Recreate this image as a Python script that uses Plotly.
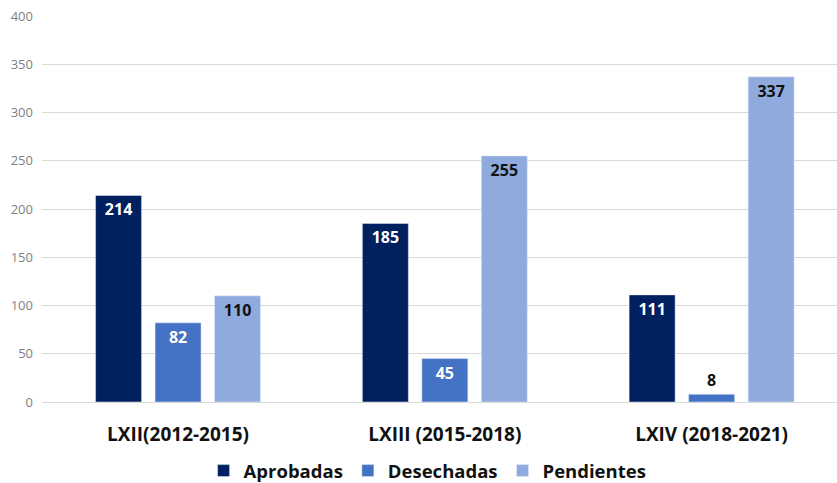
import plotly.graph_objects as go

categories = ["LXII(2012-2015)", "LXIII (2015-2018)", "LXIV (2018-2021)"]
aprobadas = [214, 185, 111]
desechadas = [82, 45, 8]
pendientes = [110, 255, 337]
y_ticks = [0, 50, 100, 150, 200, 250, 300, 350, 400]

FONT = "Open Sans"
fig = go.Figure()
fig.add_trace(go.Bar(name="Aprobadas", x=categories, y=aprobadas, marker_color="#002060",
                     text=aprobadas, textposition="inside", insidetextanchor="end",
                     textfont=dict(color="white", size=16, family=FONT, weight="bold")))
fig.add_trace(go.Bar(name="Desechadas", x=categories, y=desechadas, marker_color="#4472C4",
                     text=desechadas, textposition=["inside", "inside", "outside"],
                     insidetextanchor="end", cliponaxis=False,
                     textfont=dict(color=["white", "white", "#111111"], size=16, family=FONT, weight="bold")))
fig.add_trace(go.Bar(name="Pendientes", x=categories, y=pendientes, marker_color="#8FAADC",
                     text=pendientes, textposition="inside", insidetextanchor="end",
                     textfont=dict(color="#111111", size=16, family=FONT, weight="bold")))

fig.update_layout(
    width=837, height=483,
    margin=dict(l=42, r=0, t=16, b=81, autoexpand=False),
    paper_bgcolor="white", plot_bgcolor="white",
    barmode="group", bargap=0.331, bargroupgap=0.227,
    font=dict(family=FONT),
    showlegend=True,
    legend=dict(orientation="h", x=0.485, xanchor="center", y=-0.179, yanchor="middle",
                font=dict(size=18.5, color="#111111", family=FONT, weight="bold"),
                traceorder="normal"),
)
fig.update_xaxes(range=[-0.51, 2.47], showgrid=False, showline=True, linecolor="#d9d9d9",
                 linewidth=1, ticks="", ticklabelstandoff=15, automargin=False,
                 tickfont=dict(size=19, color="#111111", family=FONT, weight="bold"))
fig.update_yaxes(range=[0, 400], tickvals=y_ticks, showgrid=True, gridcolor="#d9d9d9",
                 zeroline=False, showline=False, ticks="", ticklabelstandoff=8, automargin=False,
                 tickfont=dict(size=13, color="#7f7f7f", family=FONT))
fig.write_html("out.html", config={"displayModeBar": False},
               post_script="document.body.style.margin='0';document.body.style.padding='0';")
